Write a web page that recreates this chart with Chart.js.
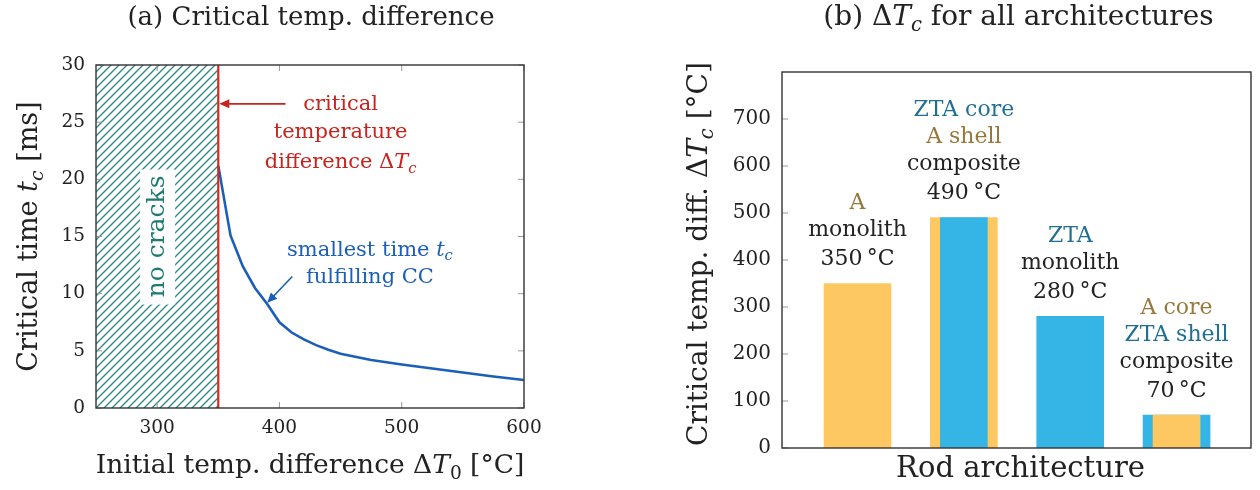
<!DOCTYPE html>
<html>
<head>
<meta charset="utf-8">
<script src="https://cdn.jsdelivr.net/npm/chart.js@4.4.1/dist/chart.umd.min.js"></script>
<style>
  body { margin: 0; background: #fff; }
  #wrap { position: relative; width: 1260px; height: 490px; }
  canvas { position: absolute; top: 0; }
  #left { left: 0; }
  #right { left: 640px; }
</style>
</head>
<body>
<div id="wrap">
  <canvas id="left" width="640" height="490"></canvas>
  <canvas id="right" width="620" height="490"></canvas>
</div>
<script>
// (a) critical time vs initial temperature difference
const deltaT0 = [350, 360, 370, 380, 390, 400, 410, 420, 430, 440, 450, 475, 500, 525, 550, 575, 600];
const critTime = [21.2, 15.1, 12.4, 10.5, 9.1, 7.5, 6.6, 6.0, 5.5, 5.1, 4.75, 4.2, 3.8, 3.45, 3.1, 2.75, 2.45];
const noCrackRange = [250, 350];
const criticalDT = 350;
const leftXTicks = [300, 400, 500, 600];

// (b) critical temperature difference for all rod architectures
const archPos = [1, 2, 3, 4];
const archValues = [350, 490, 280, 70];
const coreValues = [null, 490, null, 70];
const archLabels = [
  [['A', 'A'], ['monolith', 'k'], ['350\u2009°C', 'k']],
  [['ZTA core', 'Z'], ['A shell', 'A'], ['composite', 'k'], ['490\u2009°C', 'k']],
  [['ZTA', 'Z'], ['monolith', 'k'], ['280\u2009°C', 'k']],
  [['A core', 'A'], ['ZTA shell', 'Z'], ['composite', 'k'], ['70\u2009°C', 'k']]
];

const SERIF = '"DejaVu Serif", "Liberation Serif", serif';
const RED = '#C8231C';
const BLUE = '#1B5FB8';
const TEAL = '#1D7B76';
const BROWN = '#98773A';
const ZTA = '#1E6F91';
const ORANGE = '#FDC862';
const SKY = '#35B5E6';
const INK = '#222';
const textColor = { A: BROWN, Z: ZTA, k: INK };

// text with italic / subscript parts, centred on (x, y)
function drawRich(ctx, parts, x, y, size, color, rot) {
  const fontOf = k => {
    const s = k.startsWith('s') ? size * 0.7 : size;
    const it = k.includes('i') ? 'italic ' : '';
    return it + s + 'px ' + SERIF;
  };
  ctx.save();
  ctx.translate(x, y);
  if (rot) ctx.rotate(rot);
  ctx.fillStyle = color;
  ctx.textBaseline = 'middle';
  ctx.textAlign = 'left';
  let w = 0;
  parts.forEach(([t, k]) => { ctx.font = fontOf(k); w += ctx.measureText(t).width; });
  let cx = -w / 2;
  parts.forEach(([t, k]) => {
    ctx.font = fontOf(k);
    const dy = k.startsWith('s') ? size * 0.3 : 0;
    ctx.fillText(t, cx, dy);
    cx += ctx.measureText(t).width;
  });
  ctx.restore();
}

function arrow(ctx, x1, y1, x2, y2, color) {
  const ang = Math.atan2(y2 - y1, x2 - x1);
  ctx.save();
  ctx.strokeStyle = color;
  ctx.fillStyle = color;
  ctx.lineWidth = 1.6;
  ctx.beginPath();
  ctx.moveTo(x1, y1);
  ctx.lineTo(x2 - 6 * Math.cos(ang), y2 - 6 * Math.sin(ang));
  ctx.stroke();
  ctx.translate(x2, y2);
  ctx.rotate(ang);
  ctx.beginPath();
  ctx.moveTo(0, 0);
  ctx.lineTo(-10, -4.5);
  ctx.lineTo(-10, 4.5);
  ctx.closePath();
  ctx.fill();
  ctx.restore();
}

function frame(ctx, a) {
  ctx.save();
  ctx.strokeStyle = '#333';
  ctx.lineWidth = 1.4;
  ctx.strokeRect(a.left, a.top, a.right - a.left, a.bottom - a.top);
  ctx.restore();
}

function hatchPattern(ctx, color) {
  const s = 8;
  const c = document.createElement('canvas');
  c.width = s; c.height = s;
  const g = c.getContext('2d');
  g.strokeStyle = color;
  g.lineWidth = 1.3;
  g.beginPath();
  g.moveTo(-1, s + 1); g.lineTo(s + 1, -1);
  g.moveTo(-1, 1); g.lineTo(1, -1);
  g.moveTo(s - 1, s + 1); g.lineTo(s + 1, s - 1);
  g.stroke();
  return ctx.createPattern(c, 'repeat');
}

const leftCtx = document.getElementById('left').getContext('2d');

const leftDeco = {
  id: 'leftDeco',
  afterDatasetsDraw(chart) {
    const { ctx, chartArea: a, scales: { x, y } } = chart;
    // white box behind "no cracks"
    const nx = x.getPixelForValue(300), ny = y.getPixelForValue(15);
    ctx.save();
    ctx.fillStyle = '#fff';
    ctx.fillRect(nx - 17, ny - 67, 35, 135);
    ctx.restore();
    drawRich(ctx, [['no cracks', '']], nx, ny, 25, TEAL, -Math.PI / 2);

    // inward ticks
    ctx.save();
    ctx.strokeStyle = '#999';
    ctx.lineWidth = 1;
    ctx.beginPath();
    x.ticks.forEach(t => {
      const px = x.getPixelForValue(t.value);
      ctx.moveTo(px, a.bottom); ctx.lineTo(px, a.bottom - 6);
      ctx.moveTo(px, a.top); ctx.lineTo(px, a.top + 6);
    });
    y.ticks.forEach(t => {
      const py = y.getPixelForValue(t.value);
      ctx.moveTo(a.left, py); ctx.lineTo(a.left + 6, py);
      ctx.moveTo(a.right, py); ctx.lineTo(a.right - 6, py);
    });
    ctx.stroke();
    ctx.restore();
    frame(ctx, a);

    // red annotation
    const rx = x.getPixelForValue(450);
    drawRich(ctx, [['critical', '']], rx, y.getPixelForValue(26.5), 21, RED);
    drawRich(ctx, [['temperature', '']], rx, y.getPixelForValue(24.05), 21, RED);
    drawRich(ctx, [['difference Δ', ''], ['T', 'i'], ['c', 'si']], rx, y.getPixelForValue(21.45), 21, RED);
    arrow(ctx, x.getPixelForValue(405), y.getPixelForValue(26.6),
      x.getPixelForValue(criticalDT) + 1, y.getPixelForValue(26.6), RED);

    // blue annotation
    const bx = x.getPixelForValue(474);
    drawRich(ctx, [['smallest time ', ''], ['t', 'i'], ['c', 'si']], bx, y.getPixelForValue(13.8), 21, BLUE);
    drawRich(ctx, [['fulfilling CC', '']], bx, y.getPixelForValue(11.45), 21, BLUE);
    arrow(ctx, x.getPixelForValue(410.5), y.getPixelForValue(11.5),
      x.getPixelForValue(390), y.getPixelForValue(9.2), BLUE);
  },
  afterDraw(chart) {
    const { ctx, chartArea: a } = chart;
    const mid = (a.left + a.right) / 2;
    drawRich(ctx, [['(a) Critical temp. difference', '']], mid + 1, 18, 26, INK);
    drawRich(ctx, [['Initial temp. difference Δ', ''], ['T', 'i'], ['0', 's'], [' [°C]', '']], mid, 466, 26.5, INK);
    drawRich(ctx, [['Critical time ', ''], ['t', 'i'], ['c', 'si'], [' [ms]', '']], 30, (a.top + a.bottom) / 2, 27, INK, -Math.PI / 2);
  }
};

new Chart(leftCtx, {
  type: 'scatter',
  data: {
    datasets: [
      {
        data: noCrackRange.map(v => ({ x: v, y: 30 })),
        showLine: true,
        fill: 'origin',
        backgroundColor: hatchPattern(leftCtx, '#2A8781'),
        borderWidth: 0,
        pointRadius: 0,
        order: 3
      },
      {
        data: [{ x: criticalDT, y: 0 }, { x: criticalDT, y: 30 }],
        showLine: true,
        borderColor: '#D42A1E',
        borderWidth: 2.2,
        pointRadius: 0,
        order: 1
      },
      {
        data: deltaT0.map((v, i) => ({ x: v, y: critTime[i] })),
        showLine: true,
        borderColor: BLUE,
        borderWidth: 2.6,
        pointRadius: 0,
        tension: 0,
        order: 2
      }
    ]
  },
  options: {
    responsive: false,
    animation: false,
    events: [],
    layout: { padding: { top: 65, right: 116, left: 0, bottom: 0 } },
    plugins: { legend: { display: false }, tooltip: { enabled: false } },
    scales: {
      x: {
        type: 'linear',
        min: 250,
        max: 600,
        grid: { display: false, drawTicks: false },
        border: { display: false },
        ticks: { stepSize: 100, padding: 9, color: INK, font: { family: SERIF, size: 18.5 } },
        afterBuildTicks: s => { s.ticks = leftXTicks.map(v => ({ value: v })); },
        afterFit: s => { s.height = 82; }
      },
      y: {
        min: 0,
        max: 30,
        grid: { display: false, drawTicks: false },
        border: { display: false },
        ticks: { stepSize: 5, padding: 11, color: INK, font: { family: SERIF, size: 18.5 } },
        afterFit: s => { s.width = 96; }
      }
    }
  },
  plugins: [leftDeco]
});

const rightDeco = {
  id: 'rightDeco',
  afterDatasetsDraw(chart) {
    const { ctx, chartArea: a, scales: { x, y } } = chart;
    ctx.save();
    ctx.strokeStyle = '#999';
    ctx.lineWidth = 1;
    ctx.beginPath();
    y.ticks.forEach(t => {
      const py = y.getPixelForValue(t.value);
      ctx.moveTo(a.left, py); ctx.lineTo(a.left + 6, py);
    });
    ctx.stroke();
    ctx.restore();
    frame(ctx, a);

    archLabels.forEach((lines, i) => {
      const px = x.getPixelForValue(archPos[i]);
      const top = y.getPixelForValue(archValues[i]);
      const n = lines.length;
      lines.forEach(([t, c], j) => {
        const py = top - 24 - (n - 1 - j) * 27 - (j < n - 1 ? 2 : 0);
        drawRich(ctx, [[t, '']], px, py, 22, textColor[c]);
      });
    });
  },
  afterDraw(chart) {
    const { ctx, chartArea: a } = chart;
    const mid = (a.left + a.right) / 2;
    drawRich(ctx, [['(b) Δ', ''], ['T', 'i'], ['c', 'si'], [' for all architectures', '']], mid + 2, 18, 28, INK);
    drawRich(ctx, [['Rod architecture', '']], mid + 4, 469, 29, INK);
    drawRich(ctx, [['Critical temp. diff. Δ', ''], ['T', 'i'], ['c', 'si'], [' [°C]', '']], 60, 254, 28, INK, -Math.PI / 2);
  }
};

new Chart(document.getElementById('right'), {
  type: 'bar',
  data: {
    datasets: [
      {
        data: archPos.map((p, i) => ({ x: p, y: archValues[i] })),
        backgroundColor: [ORANGE, ORANGE, SKY, SKY],
        barThickness: 67,
        grouped: false,
        order: 2
      },
      {
        data: archPos.map((p, i) => ({ x: p, y: coreValues[i] })).filter(d => d.y !== null),
        backgroundColor: [SKY, ORANGE],
        barThickness: 47,
        grouped: false,
        order: 1
      }
    ]
  },
  options: {
    responsive: false,
    animation: false,
    events: [],
    layout: { padding: { top: 72, right: 9, left: 0, bottom: 0 } },
    plugins: { legend: { display: false }, tooltip: { enabled: false } },
    scales: {
      x: {
        type: 'linear',
        offset: false,
        min: 0.29,
        max: 4.7,
        grid: { display: false, drawTicks: false },
        border: { display: false },
        ticks: { display: false },
        afterFit: s => { s.height = 42; }
      },
      y: {
        min: 0,
        max: 800,
        grid: { display: false, drawTicks: false },
        border: { display: false },
        ticks: { stepSize: 100, padding: 11, color: INK, font: { family: SERIF, size: 20 } },
        afterBuildTicks: s => { s.ticks = s.ticks.filter(t => t.value <= 700); },
        afterFit: s => { s.width = 142; }
      }
    }
  },
  plugins: [rightDeco]
});
</script>
</body>
</html>
